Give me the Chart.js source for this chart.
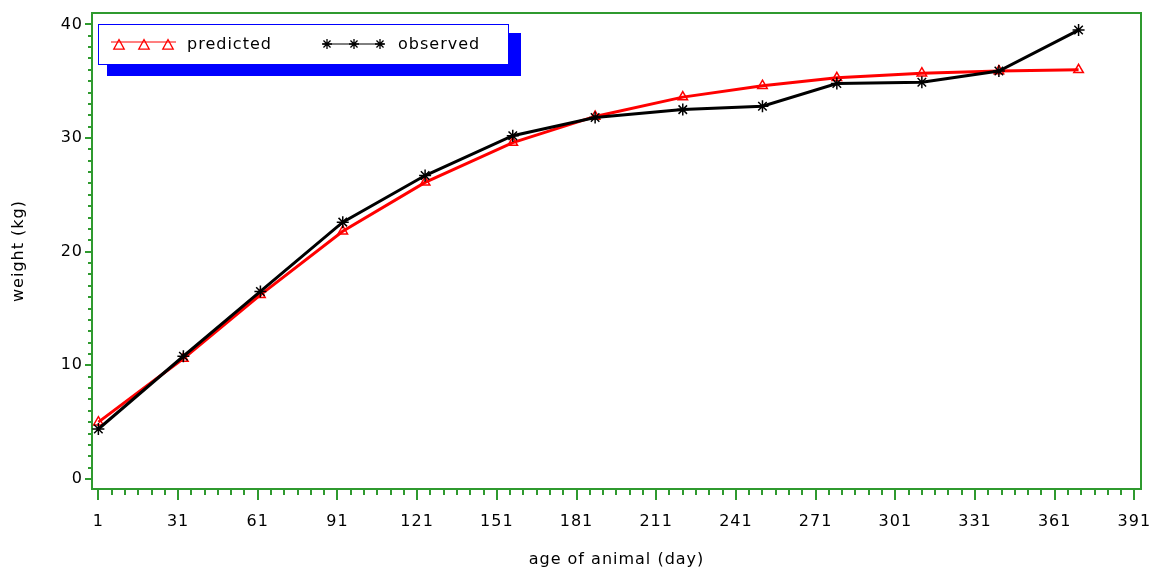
<!DOCTYPE html>
<html><head><meta charset="utf-8">
<script src="https://cdn.jsdelivr.net/npm/chart.js@4.4.1/dist/chart.umd.min.js"></script>
<style>html,body{margin:0;padding:0;background:#fff;}canvas{display:block;}</style>
</head><body>
<canvas id="c" width="1154" height="569"></canvas>
<script>
const days = [1, 33, 62, 93, 124, 157, 188, 221, 251, 279, 311, 340, 370];
const predicted = [5.0, 10.6, 16.2, 21.8, 26.1, 29.6, 31.9, 33.6, 34.6, 35.3, 35.7, 35.9, 36.0];
const observed = [4.4, 10.8, 16.5, 22.6, 26.7, 30.2, 31.8, 32.5, 32.8, 34.8, 34.9, 35.9, 39.5];
const seriesNames = ['predicted', 'observed'];
const xTickLabels = [1, 31, 61, 91, 121, 151, 181, 211, 241, 271, 301, 331, 361, 391];
const yTickLabels = [0, 10, 20, 30, 40];
const xMinorStep = 5;
const yMinorStep = 1;
const xTitle = 'age of animal (day)';
const yTitle = 'weight (kg)';

const FONT = 'DejaVu Sans';
const axisGreen = '#2f9a2f';

function marker(ctx, style, r, x, y, color, lw) {
  ctx.save();
  ctx.strokeStyle = color; ctx.lineWidth = lw;
  ctx.beginPath();
  if (style === 'triangle') {
    ctx.moveTo(x, y - r); ctx.lineTo(x + r * 0.95, y + r * 0.75); ctx.lineTo(x - r * 0.95, y + r * 0.75); ctx.closePath();
  } else {
    for (let k = 0; k < 4; k++) {
      const a = k * Math.PI / 4;
      ctx.moveTo(x - r * Math.cos(a), y - r * Math.sin(a));
      ctx.lineTo(x + r * Math.cos(a), y + r * Math.sin(a));
    }
  }
  ctx.stroke();
  ctx.restore();
}

const framePlugin = {
  id: 'frame',
  beforeDraw(chart) {
    chart.ctx.letterSpacing = '1px';
  },
  beforeDatasetsDraw(chart) {
    const {ctx, chartArea: a, scales: {x, y}} = chart;
    ctx.save();
    ctx.strokeStyle = axisGreen;
    ctx.lineWidth = 2;
    ctx.strokeRect(a.left, a.top, a.right - a.left, a.bottom - a.top);
    ctx.beginPath();
    const x0 = xTickLabels[0], x1 = xTickLabels[xTickLabels.length - 1];
    for (let v = x0; v <= x1; v += xMinorStep) {
      const px = Math.round(x.getPixelForValue(v));
      const major = xTickLabels.includes(v);
      ctx.moveTo(px, a.bottom); ctx.lineTo(px, a.bottom + (major ? 11 : 6));
    }
    const y0 = yTickLabels[0], y1 = yTickLabels[yTickLabels.length - 1];
    for (let v = y0; v <= y1; v += yMinorStep) {
      const py = Math.round(y.getPixelForValue(v));
      const major = yTickLabels.includes(v);
      ctx.moveTo(a.left, py); ctx.lineTo(a.left - (major ? 7 : 4), py);
    }
    ctx.stroke();
    ctx.restore();
  },
  afterDraw(chart) {
    const ctx = chart.ctx;
    ctx.save();
    ctx.fillStyle = '#0000ff';
    ctx.fillRect(107, 33, 414, 43);
    ctx.fillStyle = '#ffffff';
    ctx.fillRect(98, 24, 410, 40);
    ctx.strokeStyle = '#0000ff';
    ctx.lineWidth = 1;
    ctx.strokeRect(98.5, 24.5, 410, 40);
    const ly = 44;
    ctx.strokeStyle = '#ff0000'; ctx.lineWidth = 1;
    ctx.beginPath(); ctx.moveTo(111, ly - 2); ctx.lineTo(176, ly - 2); ctx.stroke();
    [119, 144, 168].forEach(px => marker(ctx, 'triangle', 5.5, px, ly + 1, '#ff0000', 1.3));
    ctx.strokeStyle = '#000000'; ctx.lineWidth = 1;
    ctx.beginPath(); ctx.moveTo(323, ly); ctx.lineTo(384, ly); ctx.stroke();
    [327, 354, 380].forEach(px => marker(ctx, 'star', 5, px, ly, '#000000', 1.3));
    ctx.fillStyle = '#000';
    ctx.font = '16px "' + FONT + '"';
    ctx.letterSpacing = '1px';
    ctx.textBaseline = 'middle';
    ctx.textAlign = 'left';
    ctx.fillText(seriesNames[0], 187, ly + 1);
    ctx.fillText(seriesNames[1], 398, ly + 1);
    ctx.restore();
  }
};

new Chart(document.getElementById('c'), {
  type: 'line',
  data: {
    datasets: [
      {
        label: seriesNames[0],
        data: days.map((d, i) => ({x: d, y: predicted[i]})),
        borderColor: '#ff0000',
        borderWidth: 3,
        pointStyle: 'triangle',
        pointRadius: 5.5,
        pointBorderWidth: 1.5,
        pointBorderColor: '#ff0000',
        pointBackgroundColor: 'rgba(0,0,0,0)',
        tension: 0,
        order: 1
      },
      {
        label: seriesNames[1],
        data: days.map((d, i) => ({x: d, y: observed[i]})),
        borderColor: '#000000',
        borderWidth: 3,
        pointStyle: 'star',
        pointRadius: 6,
        pointBorderWidth: 1.5,
        pointBorderColor: '#000000',
        pointBackgroundColor: 'rgba(0,0,0,0)',
        tension: 0,
        order: 0
      }
    ]
  },
  options: {
    responsive: false,
    animation: false,
    devicePixelRatio: 1,
    layout: {padding: {top: 13, right: 13, left: 0, bottom: 0}},
    plugins: {legend: {display: false}, tooltip: {enabled: false}},
    scales: {
      x: {
        type: 'linear',
        min: -1.4,
        max: 393.5,
        afterBuildTicks: s => { s.ticks = xTickLabels.map(v => ({value: v})); },
        afterFit: s => { s.height = 80; s.paddingLeft = 0; s.paddingRight = 0; },
        grid: {display: false, drawTicks: false, tickLength: 0},
        border: {display: false},
        ticks: {
          autoSkip: false, maxRotation: 0, padding: 23, color: '#000',
          font: {family: FONT, size: 16},
          callback: v => String(v)
        },
        title: {display: true, text: xTitle, color: '#000', font: {family: FONT, size: 16}, padding: {top: 0, bottom: 0}}
      },
      y: {
        type: 'linear',
        min: -0.88,
        max: 41,
        afterBuildTicks: s => { s.ticks = yTickLabels.map(v => ({value: v})); },
        afterFit: s => { s.width = 92; s.paddingTop = 0; s.paddingBottom = 0; },
        grid: {display: false, drawTicks: false, tickLength: 0},
        border: {display: false},
        ticks: {
          autoSkip: false, padding: 9, color: '#000',
          font: {family: FONT, size: 16},
          callback: v => String(v)
        },
        title: {display: true, text: yTitle, color: '#000', font: {family: FONT, size: 16}, padding: {top: 9, bottom: 0}}
      }
    }
  },
  plugins: [framePlugin]
});
</script>
</body></html>
